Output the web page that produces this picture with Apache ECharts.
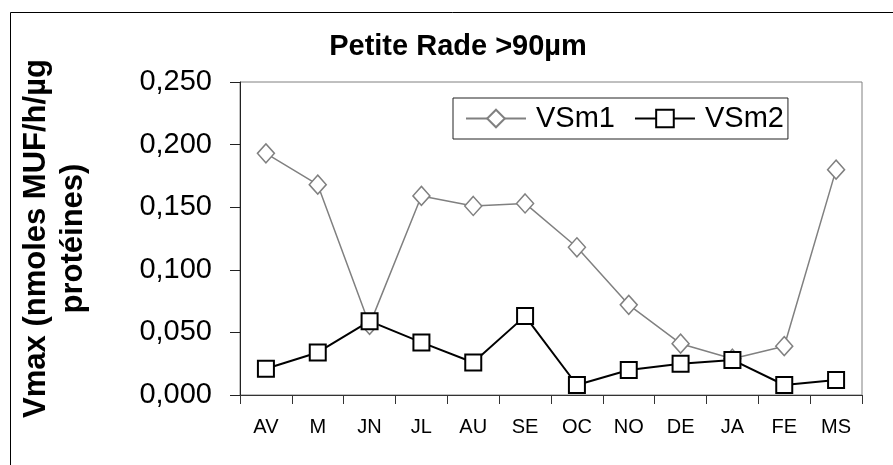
<!DOCTYPE html>
<html>
<head>
<meta charset="utf-8">
<script src="https://cdn.jsdelivr.net/npm/echarts@6/dist/echarts.min.js"></script>
<style>
  html, body { margin: 0; padding: 0; background: #fff; }
  #chart { width: 893px; height: 465px; }
</style>
</head>
<body>
<div id="chart"></div>
<script>
const months = ["AV", "M", "JN", "JL", "AU", "SE", "OC", "NO", "DE", "JA", "FE", "MS"];
const vsm1 = [0.193, 0.168, 0.056, 0.159, 0.151, 0.153, 0.118, 0.072, 0.041, 0.029, 0.039, 0.180];
const vsm2 = [0.021, 0.034, 0.059, 0.042, 0.026, 0.063, 0.008, 0.020, 0.025, 0.028, 0.008, 0.012];
const yTicks = { min: 0, max: 0.25, interval: 0.05 };

const font = '"Liberation Sans", Arial, sans-serif';
const chart = echarts.init(document.getElementById("chart"), null, { renderer: "canvas" });

chart.setOption({
  animation: false,
  textStyle: { fontFamily: font },
  title: {
    text: "Petite Rade >90µm",
    left: 458, top: 32, textAlign: "center", padding: 0,
    textStyle: { fontFamily: font, fontWeight: "bold", fontSize: 29, color: "#000" }
  },
  graphic: [{
    type: "rect", z: -1, silent: true,
    shape: { x: 10.5, y: 12.5, width: 1000, height: 1000 },
    style: { fill: "none", stroke: "#000", lineWidth: 1 }
  }],
  legend: {
    left: 453, top: 98,
    padding: [6, 4, 6, 12],
    itemGap: 19, itemWidth: 60, itemHeight: 22,
    borderColor: "#222", borderWidth: 1, backgroundColor: "#fff",
    textStyle: { fontFamily: font, fontSize: 29, color: "#000", padding: [0, 0, 0, 5] },
    data: ["VSm1", "VSm2"]
  },
  grid: {
    left: 240, right: 31, top: 82, bottom: 70,
    show: true, borderColor: "#808080", borderWidth: 1, backgroundColor: "#fff"
  },
  xAxis: {
    type: "category", data: months, boundaryGap: true,
    axisLine: { lineStyle: { color: "#333", width: 1 } },
    axisTick: { show: true, length: 9, alignWithLabel: false, lineStyle: { color: "#333" } },
    axisLabel: { fontFamily: font, fontSize: 20, color: "#000", margin: 22, interval: 0 },
    splitLine: { show: false }
  },
  yAxis: {
    type: "value", min: yTicks.min, max: yTicks.max, interval: yTicks.interval,
    name: "Vmax (nmoles MUF/h/µg\nprotéines)",
    nameLocation: "middle", nameRotate: 90, nameGap: 148,
    nameTextStyle: { fontFamily: font, fontWeight: "bold", fontSize: 31, color: "#000", lineHeight: 37 },
    axisLine: { show: true, lineStyle: { color: "#222", width: 1 } },
    axisTick: { show: true, length: 10, lineStyle: { color: "#222" } },
    axisLabel: {
      fontFamily: font, fontSize: 29, color: "#000", margin: 28,
      formatter: v => v.toFixed(3).replace(".", ",")
    },
    splitLine: { show: false }
  },
  series: [
    {
      name: "VSm1", type: "line", data: vsm1,
      symbol: "diamond", symbolSize: [17, 19],
      lineStyle: { color: "#808080", width: 1.5 },
      itemStyle: { color: "#fff", borderColor: "#808080", borderWidth: 1.5 }
    },
    {
      name: "VSm2", type: "line", data: vsm2,
      symbol: "rect", symbolSize: 16,
      lineStyle: { color: "#000", width: 2 },
      itemStyle: { color: "#fff", borderColor: "#000", borderWidth: 2 }
    }
  ]
});
</script>
</body>
</html>
